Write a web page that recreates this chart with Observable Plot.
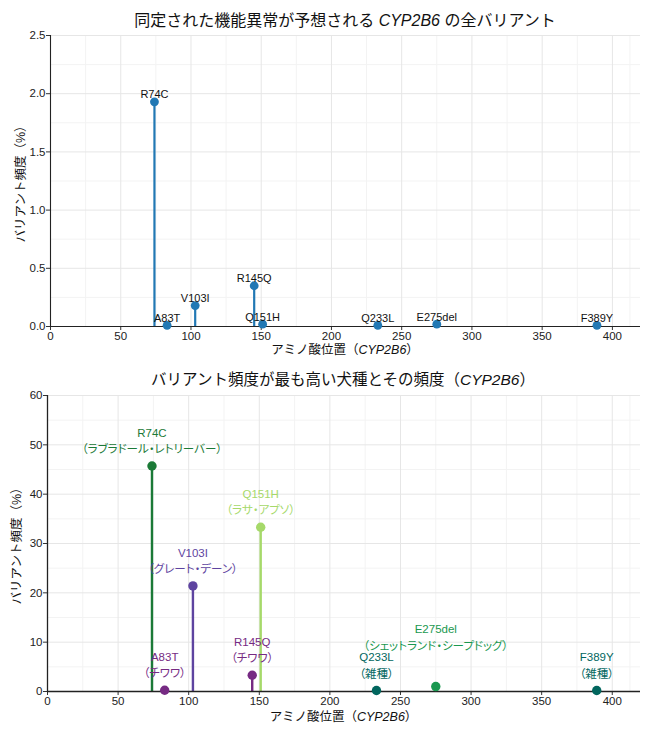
<!DOCTYPE html>
<html>
<head>
<meta charset="utf-8">
<script src="https://cdn.jsdelivr.net/npm/d3@7"></script>
<script src="https://cdn.jsdelivr.net/npm/@observablehq/plot@0.6"></script>
<style>
  body { margin: 0; background: #fff; width: 650px; font-family: "Liberation Sans", "Noto Sans CJK JP", sans-serif; }
  .title { width: 650px; text-align: left; color: #111; font-family: "Liberation Sans", "Noto Sans CJK JP", sans-serif; white-space: nowrap; position: relative; }
  .title span.in { position: absolute; transform: translateX(-50%); }
  i { font-style: italic; }
  svg { display: block; }
  .blabel text { font-feature-settings: "palt"; }
</style>
</head>
<body>
<div id="t1" class="title" style="height:28px;font-size:16px;"><span class="in" style="left:345px;top:7px;">同定された機能異常が予想される <i>CYP2B6</i> の全バリアント</span></div>
<div id="c1"></div>
<div id="t2" class="title" style="height:26px;font-size:15.5px;"><span class="in" style="left:343px;top:5px;">バリアント頻度が最も高い犬種とその頻度（<i>CYP2B6</i>）</span></div>
<div id="c2"></div>
<script>
// ---- data ----
const variants = ["R74C", "A83T", "V103I", "R145Q", "Q151H", "Q233L", "E275del", "F389Y"];
const positions = [74, 83, 103, 145, 151, 233, 275, 389];
const allFreq = [1.93, 0.01, 0.18, 0.35, 0.02, 0.01, 0.02, 0.01];
const breedFreq = [45.7, 0.25, 21.4, 3.3, 33.3, 0.2, 1.0, 0.2];
const breeds = ["ラブラドール・レトリーバー", "チワワ", "グレート・デーン", "チワワ", "ラサ・アプソ", "雑種", "シェットランド・シープドッグ", "雑種"];
const breedNames = ["ラブラドール・レトリーバー", "チワワ", "グレート・デーン", "ラサ・アプソ", "雑種", "シェットランド・シープドッグ"];
const breedColors = ["#1b7a37", "#762a83", "#5e44a0", "#a6d96a", "#01665e", "#1a9850"];
const xTicks = [0, 50, 100, 150, 200, 250, 300, 350, 400];
const yTicksTop = [0, 0.5, 1.0, 1.5, 2.0, 2.5];
const yTicksBottom = [0, 10, 20, 30, 40, 50, 60];

// label nudges (style, not data)
const labelNudge = {"E275del": -24};

const topData = variants.map((v, i) => ({variant: v, pos: positions[i], freq: allFreq[i]}));
const botData = variants.map((v, i) => ({variant: v, pos: positions[i], freq: breedFreq[i], breed: breeds[i],
  label: v + "\n（" + breeds[i] + "）"}));

const FONT = '"Liberation Sans", "Noto Sans CJK JP", sans-serif';
const colorOf = b => breedColors[breedNames.indexOf(b)];

function mids(t) { const m = []; for (let i = 0; i < t.length - 1; i++) m.push((t[i] + t[i + 1]) / 2); return m; }
const xMinor = mids(xTicks).concat([412.5]);

function addTitles(svg, o) {
  const s = d3.select(svg);
  const xt = s.append("text")
    .attr("x", (o.marginLeft + (650 - o.marginRight)) / 2)
    .attr("y", o.xTitleY)
    .attr("text-anchor", "middle")
    .attr("dominant-baseline", "middle")
    .style("font-size", "12.5px").style("font-family", FONT).attr("fill", "#111");
  xt.append("tspan").text("アミノ酸位置（");
  xt.append("tspan").style("font-style", "italic").text("CYP2B6");
  xt.append("tspan").text("）");
  s.append("text")
    .attr("transform", `translate(${o.yTitleX},${o.yTitleCY}) rotate(-90)`)
    .attr("text-anchor", "middle")
    .attr("dominant-baseline", "middle")
    .style("font-size", "12.5px").style("font-family", FONT).attr("fill", "#111")
    .text("バリアント頻度（%）");
}

// ---- top panel ----
{
  const o = {marginLeft: 50, marginRight: 10, marginTop: 7, marginBottom: 36, height: 334, xTitleY: 323, yTitleX: 22, yTitleCY: 153};
  const chart = Plot.plot({
    width: 650, height: o.height,
    marginLeft: o.marginLeft, marginRight: o.marginRight, marginTop: o.marginTop, marginBottom: o.marginBottom,
    style: {fontFamily: FONT, fontSize: "11.5px", color: "#333", background: "#fff"},
    x: {domain: [0, 420], label: null},
    y: {domain: [0, 2.5], label: null},
    marks: [
      Plot.gridX(xMinor, {stroke: "#f3f3f3", strokeOpacity: 1}),
      Plot.gridY(mids(yTicksTop), {stroke: "#f3f3f3", strokeOpacity: 1}),
      Plot.gridX(xTicks, {stroke: "#e6e6e6", strokeOpacity: 1}),
      Plot.gridY(yTicksTop, {stroke: "#e6e6e6", strokeOpacity: 1}),
      Plot.axisX({ticks: xTicks, tickSize: 4, tickPadding: 1, label: null, stroke: "#333", fill: "#222"}),
      Plot.axisY({ticks: yTicksTop, tickSize: 4, tickPadding: 1, label: null, tickFormat: d3.format(".1f"), stroke: "#333", fill: "#222"}),
      Plot.ruleX(topData, {x: "pos", y1: 0, y2: "freq", stroke: "#2178b4", strokeWidth: 2.2}),
      Plot.ruleY([0], {stroke: "#222", strokeWidth: 1.1}),
      Plot.ruleX([0], {stroke: "#222", strokeWidth: 1.1}),
      Plot.dot(topData, {x: "pos", y: "freq", r: 4.4, fill: "#2178b4", stroke: null}),
      Plot.text(topData, {x: "pos", y: "freq", text: "variant", lineAnchor: "bottom", dy: -3.5, fontSize: 11, fill: "#111"})
    ]
  });
  addTitles(chart, o);
  document.getElementById("c1").appendChild(chart);
}

// ---- bottom panel ----
{
  const o = {marginLeft: 47, marginRight: 10, marginTop: 7, marginBottom: 38, height: 341, xTitleY: 330, yTitleX: 18, yTitleCY: 155};
  const chart = Plot.plot({
    width: 650, height: o.height,
    marginLeft: o.marginLeft, marginRight: o.marginRight, marginTop: o.marginTop, marginBottom: o.marginBottom,
    style: {fontFamily: FONT, fontSize: "11.5px", color: "#333", background: "#fff"},
    x: {domain: [0, 420], label: null},
    y: {domain: [0, 60], label: null},
    marks: [
      Plot.gridX(xMinor, {stroke: "#f3f3f3", strokeOpacity: 1}),
      Plot.gridY(mids(yTicksBottom), {stroke: "#f3f3f3", strokeOpacity: 1}),
      Plot.gridX(xTicks, {stroke: "#e6e6e6", strokeOpacity: 1}),
      Plot.gridY(yTicksBottom, {stroke: "#e6e6e6", strokeOpacity: 1}),
      Plot.axisX({ticks: xTicks, tickSize: 4, tickPadding: 1, label: null, stroke: "#333", fill: "#222"}),
      Plot.axisY({ticks: yTicksBottom, tickSize: 4, tickPadding: 1, label: null, stroke: "#333", fill: "#222"}),
      Plot.ruleX(botData, {x: "pos", y1: 0, y2: "freq", stroke: d => colorOf(d.breed), strokeWidth: 2.4}),
      Plot.ruleY([0], {stroke: "#222", strokeWidth: 1.3}),
      Plot.ruleX([0], {stroke: "#222", strokeWidth: 1.3}),
      Plot.dot(botData, {x: "pos", y: "freq", r: 4.7, fill: d => colorOf(d.breed), stroke: null}),
      Plot.text(botData.filter(d => !labelNudge[d.variant]), {x: "pos", y: "freq", text: "label", lineAnchor: "bottom", lineHeight: 1.4, dy: -13, fontSize: 11.5, fill: d => colorOf(d.breed), className: "blabel"}),
      Plot.text(botData.filter(d => labelNudge[d.variant]), {x: "pos", y: "freq", text: "label", lineAnchor: "bottom", lineHeight: 1.4, dy: -13 + labelNudge["E275del"], fontSize: 11.5, fill: d => colorOf(d.breed), className: "blabel"})
    ]
  });
  addTitles(chart, o);
  document.getElementById("c2").appendChild(chart);
}
</script>
</body>
</html>
